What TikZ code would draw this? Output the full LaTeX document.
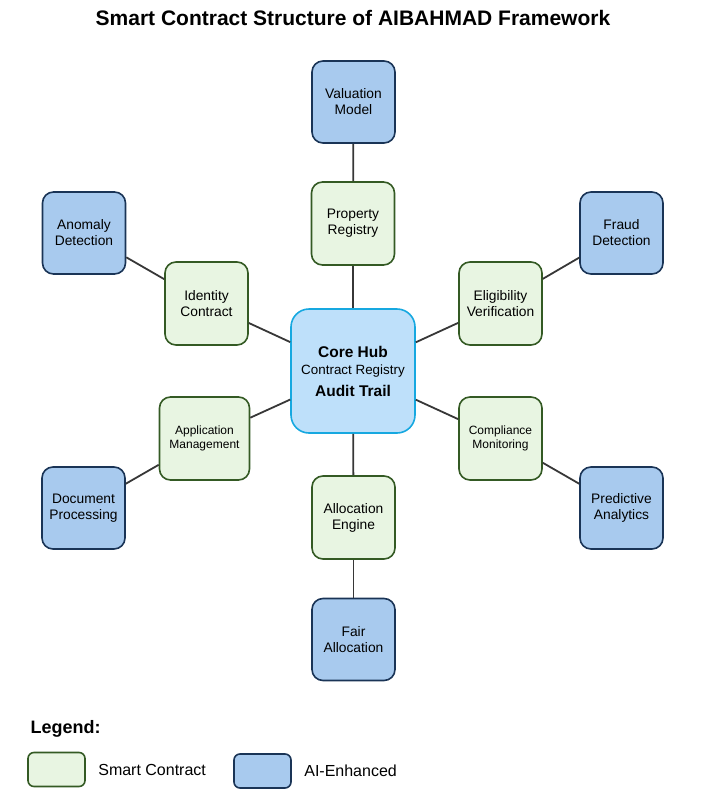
\documentclass[tikz,border=0pt]{standalone}
\usepackage{fontspec}
\setmainfont{Liberation Sans}
\usetikzlibrary{positioning}
\definecolor{contractfill}{RGB}{232,245,226}
\definecolor{contractdraw}{RGB}{52,90,36}
\definecolor{aifill}{RGB}{168,202,238}
\definecolor{aidraw}{RGB}{26,52,86}
\definecolor{hubfill}{RGB}{190,224,250}
\definecolor{hubdraw}{RGB}{22,168,224}
\definecolor{linkgray}{RGB}{55,55,55}
\tikzset{
  contract node/.style={
    rectangle, rounded corners=11pt, draw=contractdraw, line width=1.6pt,
    fill=contractfill, align=center, text width=80pt,
    minimum width=83pt, minimum height=83pt,
    inner sep=1pt, font=\fontsize{13.8}{16}\selectfont
  },
  ai node/.style={
    rectangle, rounded corners=11pt, draw=aidraw, line width=1.6pt,
    fill=aifill, align=center, text width=80pt,
    minimum width=83pt, minimum height=82pt,
    inner sep=1pt, font=\fontsize{13.8}{16}\selectfont
  },
  hub node/.style={
    rectangle, rounded corners=18pt, draw=hubdraw, line width=1.6pt,
    fill=hubfill, align=center,
    minimum width=124pt, minimum height=124pt, inner sep=1pt,
    font=\fontsize{13.4}{17}\selectfont
  },
  legend box/.style={minimum width=57pt, minimum height=34pt, text width={}, rounded corners=6pt},
  legend text/.style={font=\fontsize{16}{19}\selectfont, right=9pt of #1},
  link line/.style={line width=1.8pt, linkgray}
}

\begin{document}
\begin{tikzpicture}[x=1pt,y=-1pt]
    \useasboundingbox (0,0) rectangle (709,793);
    \node[font=\bfseries\fontsize{21}{24}\selectfont] (title) at (353,18) {Smart Contract Structure of AIBAHMAD Framework};
    % central hub
    \node[hub node] (hub) at (353,371) {{\bfseries\fontsize{15.5}{17}\selectfont Core Hub}\\
      Contract Registry\\[5pt]
      {\bfseries\fontsize{15.5}{17}\selectfont Audit Trail}};
    % smart contracts
    \node[contract node] (property) at (353,223.5) {Property\\Registry};
    \node[contract node] (identity) at (206.5,303.5) {Identity\\Contract};
    \node[contract node] (eligibility) at (500.5,303.5) {Eligibility\\Verification};
    \node[contract node, minimum width=89pt, text width=88pt, font=\fontsize{12}{14}\selectfont] (application) at (204.5,438.5) {Application\\Management};
    \node[contract node, font=\fontsize{12}{14}\selectfont] (compliance) at (500.5,438.5) {Compliance\\Monitoring};
    \node[contract node] (allocation) at (353.5,517.5) {Allocation\\Engine};
    % ai modules
    \node[ai node] (valuation) at (353.5,102) {Valuation\\Model};
    \node[ai node] (anomaly) at (84,233) {Anomaly\\Detection};
    \node[ai node] (fraud) at (621.5,233) {Fraud\\Detection};
    \node[ai node] (document) at (83.5,508) {Document\\Processing};
    \node[ai node] (predictive) at (621.5,508) {Predictive\\Analytics};
    \node[ai node] (fair) at (353.5,639.5) {Fair\\Allocation};
    % links
    \foreach \a/\b in {hub/property, hub/identity, hub/eligibility, hub/application,
                       hub/compliance, hub/allocation, property/valuation, identity/anomaly,
                       eligibility/fraud, application/document, compliance/predictive, allocation/fair}
      \draw[link line] (\a) -- (\b);
    % legend
    \node[anchor=west, font=\bfseries\fontsize{18}{21}\selectfont] (legendtitle) at (27,729) {Legend:};
    \node[contract node, legend box] (legcontract) at (56.5,769.5) {};
    \node[legend text=legcontract] (legcontracttext) {Smart Contract};
    \node[ai node, legend box] (legai) at (262.5,771) {};
    \node[legend text=legai] (legaitext) {AI-Enhanced};
  \end{tikzpicture}
\end{document}
